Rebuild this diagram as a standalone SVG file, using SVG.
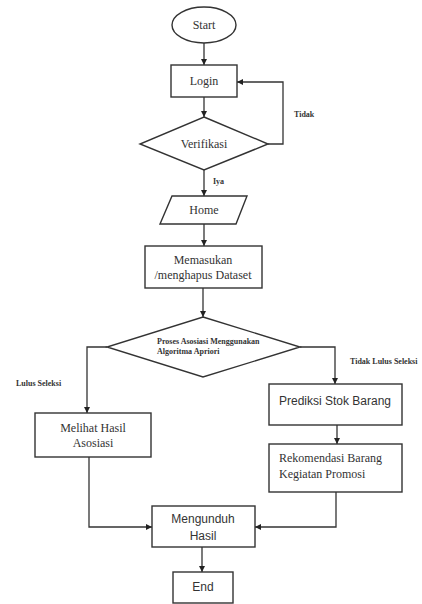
<svg xmlns="http://www.w3.org/2000/svg" width="422" height="604" viewBox="0 0 422 604">
<style>
.s{fill:#fff;stroke:#333;stroke-width:1.4}
.c{fill:none;stroke:#333;stroke-width:1.3}
.t{font-family:"Liberation Serif","Times New Roman",serif;font-size:12px;fill:#333;text-anchor:middle}
.ts{font-family:"Liberation Sans",Arial,sans-serif;font-size:12px;fill:#333;text-anchor:middle}
.b{font-family:"Liberation Serif","Times New Roman",serif;font-size:8px;font-weight:bold;fill:#333}
</style>
<defs>
<marker id="a" viewBox="0 0 10 10" refX="10" refY="5" markerWidth="6" markerHeight="6" orient="auto" markerUnits="userSpaceOnUse">
<path d="M0,0 L10,5 L0,10 z" fill="#222"/>
</marker>
</defs>
<rect width="422" height="604" fill="#fff"/>
<g id="connectors">
<path class="c" d="M204,43 V65" marker-end="url(#a)"/>
<path class="c" d="M204,97 V117" marker-end="url(#a)"/>
<path class="c" d="M268,144 H283 V82 H237" marker-end="url(#a)"/>
<path class="c" d="M204,170 V196" marker-end="url(#a)"/>
<path class="c" d="M204,224 V246" marker-end="url(#a)"/>
<path class="c" d="M203,288 V317" marker-end="url(#a)"/>
<path class="c" d="M107,347 H87 V413" marker-end="url(#a)"/>
<path class="c" d="M300,347 H335 V384" marker-end="url(#a)"/>
<path class="c" d="M337,425 V444" marker-end="url(#a)"/>
<path class="c" d="M89,457 V527 H152" marker-end="url(#a)"/>
<path class="c" d="M336,492 V527 H255" marker-end="url(#a)"/>
<path class="c" d="M202,547 V572" marker-end="url(#a)"/>
<text class="b" x="294" y="117">Tidak</text>
<text class="b" x="213" y="184">Iya</text>
<text class="b" x="16" y="386">Lulus Seleksi</text>
<text class="b" x="350" y="364" font-size="8.5">Tidak Lulus Seleksi</text>
</g>
<g id="start">
<ellipse class="s" cx="204" cy="25" rx="32" ry="18"/>
<text class="t" x="204" y="29" font-size="11">Start</text>
</g>
<g id="login">
<rect class="s" x="171" y="65" width="66" height="32"/>
<text class="t" x="204" y="85">Login</text>
</g>
<g id="verifikasi">
<polygon class="s" points="204,117 268,144 204,170 140,144"/>
<text class="t" x="204" y="148">Verifikasi</text>
</g>
<g id="home">
<polygon class="s" points="172,196 247,196 236,224 160,224"/>
<text class="t" x="204" y="214">Home</text>
</g>
<g id="dataset">
<rect class="s" x="145" y="246" width="117" height="42"/>
<text class="t" x="203" y="264" font-size="11">Memasukan</text>
<text class="t" x="203" y="279" font-size="11">/menghapus Dataset</text>
</g>
<g id="proses">
<polygon class="s" points="203,317 300,347 203,377 107,347"/>
<text class="b" x="157" y="344">Proses Asosiasi Menggunakan</text>
<text class="b" x="157" y="354">Algoritma Apriori</text>
</g>
<g id="melihat">
<rect class="s" x="35" y="413" width="116" height="44"/>
<text class="t" x="93" y="432">Melihat Hasil</text>
<text class="t" x="93" y="447">Asosiasi</text>
</g>
<g id="prediksi">
<rect class="s" x="269" y="384" width="133" height="41"/>
<text class="ts" x="335" y="405" font-size="11.5">Prediksi Stok Barang</text>
</g>
<g id="rekomendasi">
<rect class="s" x="269" y="444" width="133" height="48"/>
<text class="t" x="279" y="462" font-size="12.5" style="text-anchor:start">Rekomendasi Barang</text>
<text class="t" x="279" y="478" font-size="12.5" style="text-anchor:start">Kegiatan Promosi</text>
</g>
<g id="mengunduh">
<rect class="s" x="152" y="506" width="103" height="41"/>
<text class="ts" x="203" y="523">Mengunduh</text>
<text class="ts" x="203" y="540">Hasil</text>
</g>
<g id="end">
<rect class="s" x="173" y="572" width="60" height="31"/>
<text class="ts" x="203" y="591" font-size="11">End</text>
</g>
</svg>
